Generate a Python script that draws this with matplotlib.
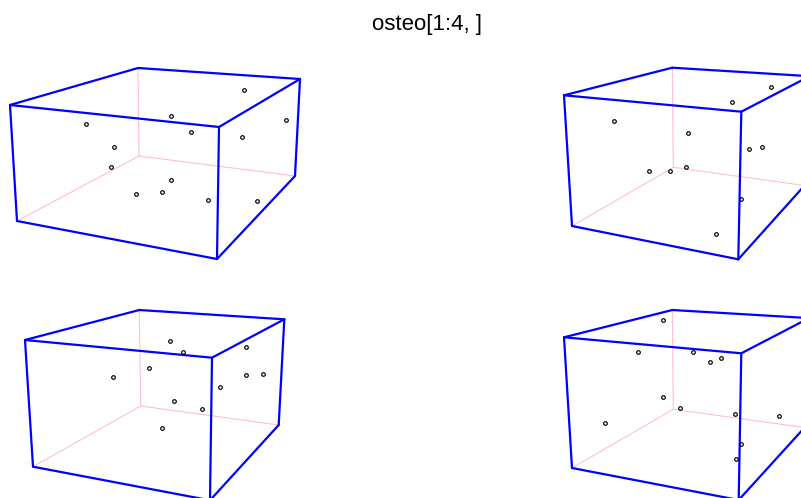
import numpy as np
import matplotlib
matplotlib.use("Agg")
import matplotlib.pyplot as plt

plt.rcParams['font.family'] = ['Liberation Sans', 'DejaVu Sans']

title = "osteo[1:4, ]"

# box corners, order:
# front top left, back top left, back top right, front top right,
# front bottom left, front bottom right, back bottom right, back bottom left
box1_x = [10, 138, 300, 219, 17, 217, 295, 139]
box1_y = [105, 68, 79, 127, 221, 259, 176, 156]
box2_x = [564, 672.3, 809.7, 741.3, 572, 738.3, 804.5, 673.3]
box2_y = [95.3, 67.7, 76.2, 111.7, 226, 259.3, 185.5, 167.3]
box3_x = [25, 139.3, 284.3, 212, 33, 210, 278.7, 140.7]
box3_y = [340, 310, 319.3, 357.7, 466.7, 500.3, 425, 406]
box4_x = [564, 672.3, 809, 741.3, 572, 738.7, 804.6, 673.3]
box4_y = [337.3, 310, 318.1, 353.3, 468, 500, 427.5, 409.3]

# specimens in each panel
pts1_x = [86.3, 114, 110.7, 170.7, 191, 243.7, 242.3, 285.7, 171, 161.7, 136, 208.3, 257]
pts1_y = [123.7, 147, 167, 116.3, 131.7, 90.3, 136.7, 120, 179.7, 192, 193.7, 200, 201.3]
pts2_x = [614.3, 649, 669.7, 686.3, 688, 732, 770.7, 749, 761.7, 740.7, 716]
pts2_y = [120.7, 171, 170.7, 167.3, 133, 102.3, 87, 149.3, 146.7, 199.3, 233.7]
pts3_x = [170.3, 183, 149.3, 113, 174, 201.7, 161.7, 246.3, 246.3, 262.7, 220.3]
pts3_y = [341, 351.7, 368, 377.3, 401, 409.3, 428.3, 347.3, 375, 373.7, 387]
pts4_x = [662.7, 638.3, 693, 710.3, 720.7, 663.3, 680.3, 735, 778.7, 605.3, 740.7, 736.3]
pts4_y = [319.7, 351.7, 352, 362, 358.3, 397.3, 408.3, 414.3, 416, 423, 443.7, 459]

boxes = [(box1_x, box1_y), (box2_x, box2_y), (box3_x, box3_y), (box4_x, box4_y)]
points = [(pts1_x, pts1_y), (pts2_x, pts2_y), (pts3_x, pts3_y), (pts4_x, pts4_y)]

# hidden edges pink, visible edges blue
back_edges = [(1, 7), (7, 4), (7, 6)]
front_edges = [(0, 1), (1, 2), (2, 3), (3, 0), (0, 4), (4, 5), (5, 3), (5, 6), (6, 2)]

fig = plt.figure(figsize=(8.01, 4.98), dpi=100)
ax = fig.add_axes([0, 0, 1, 1])
ax.set_xlim(0, 801)
ax.set_ylim(498, 0)
ax.axis("off")

for (bx, by), (px, py) in zip(boxes, points):
    bx = np.array(bx)
    by = np.array(by)
    for a, b in back_edges:
        ax.plot(bx[[a, b]], by[[a, b]], color="pink", lw=0.8, solid_capstyle="round", zorder=1)
    for a, b in front_edges:
        ax.plot(bx[[a, b]], by[[a, b]], color="blue", lw=1.6, solid_capstyle="round", zorder=2)
    ax.plot(px, py, "o", mfc="none", mec="black", ms=2.6, mew=0.85, zorder=3)

ax.text(427, 24, title, ha="center", va="center", fontsize=16, color="black")

fig.savefig("out.png", dpi=100)
